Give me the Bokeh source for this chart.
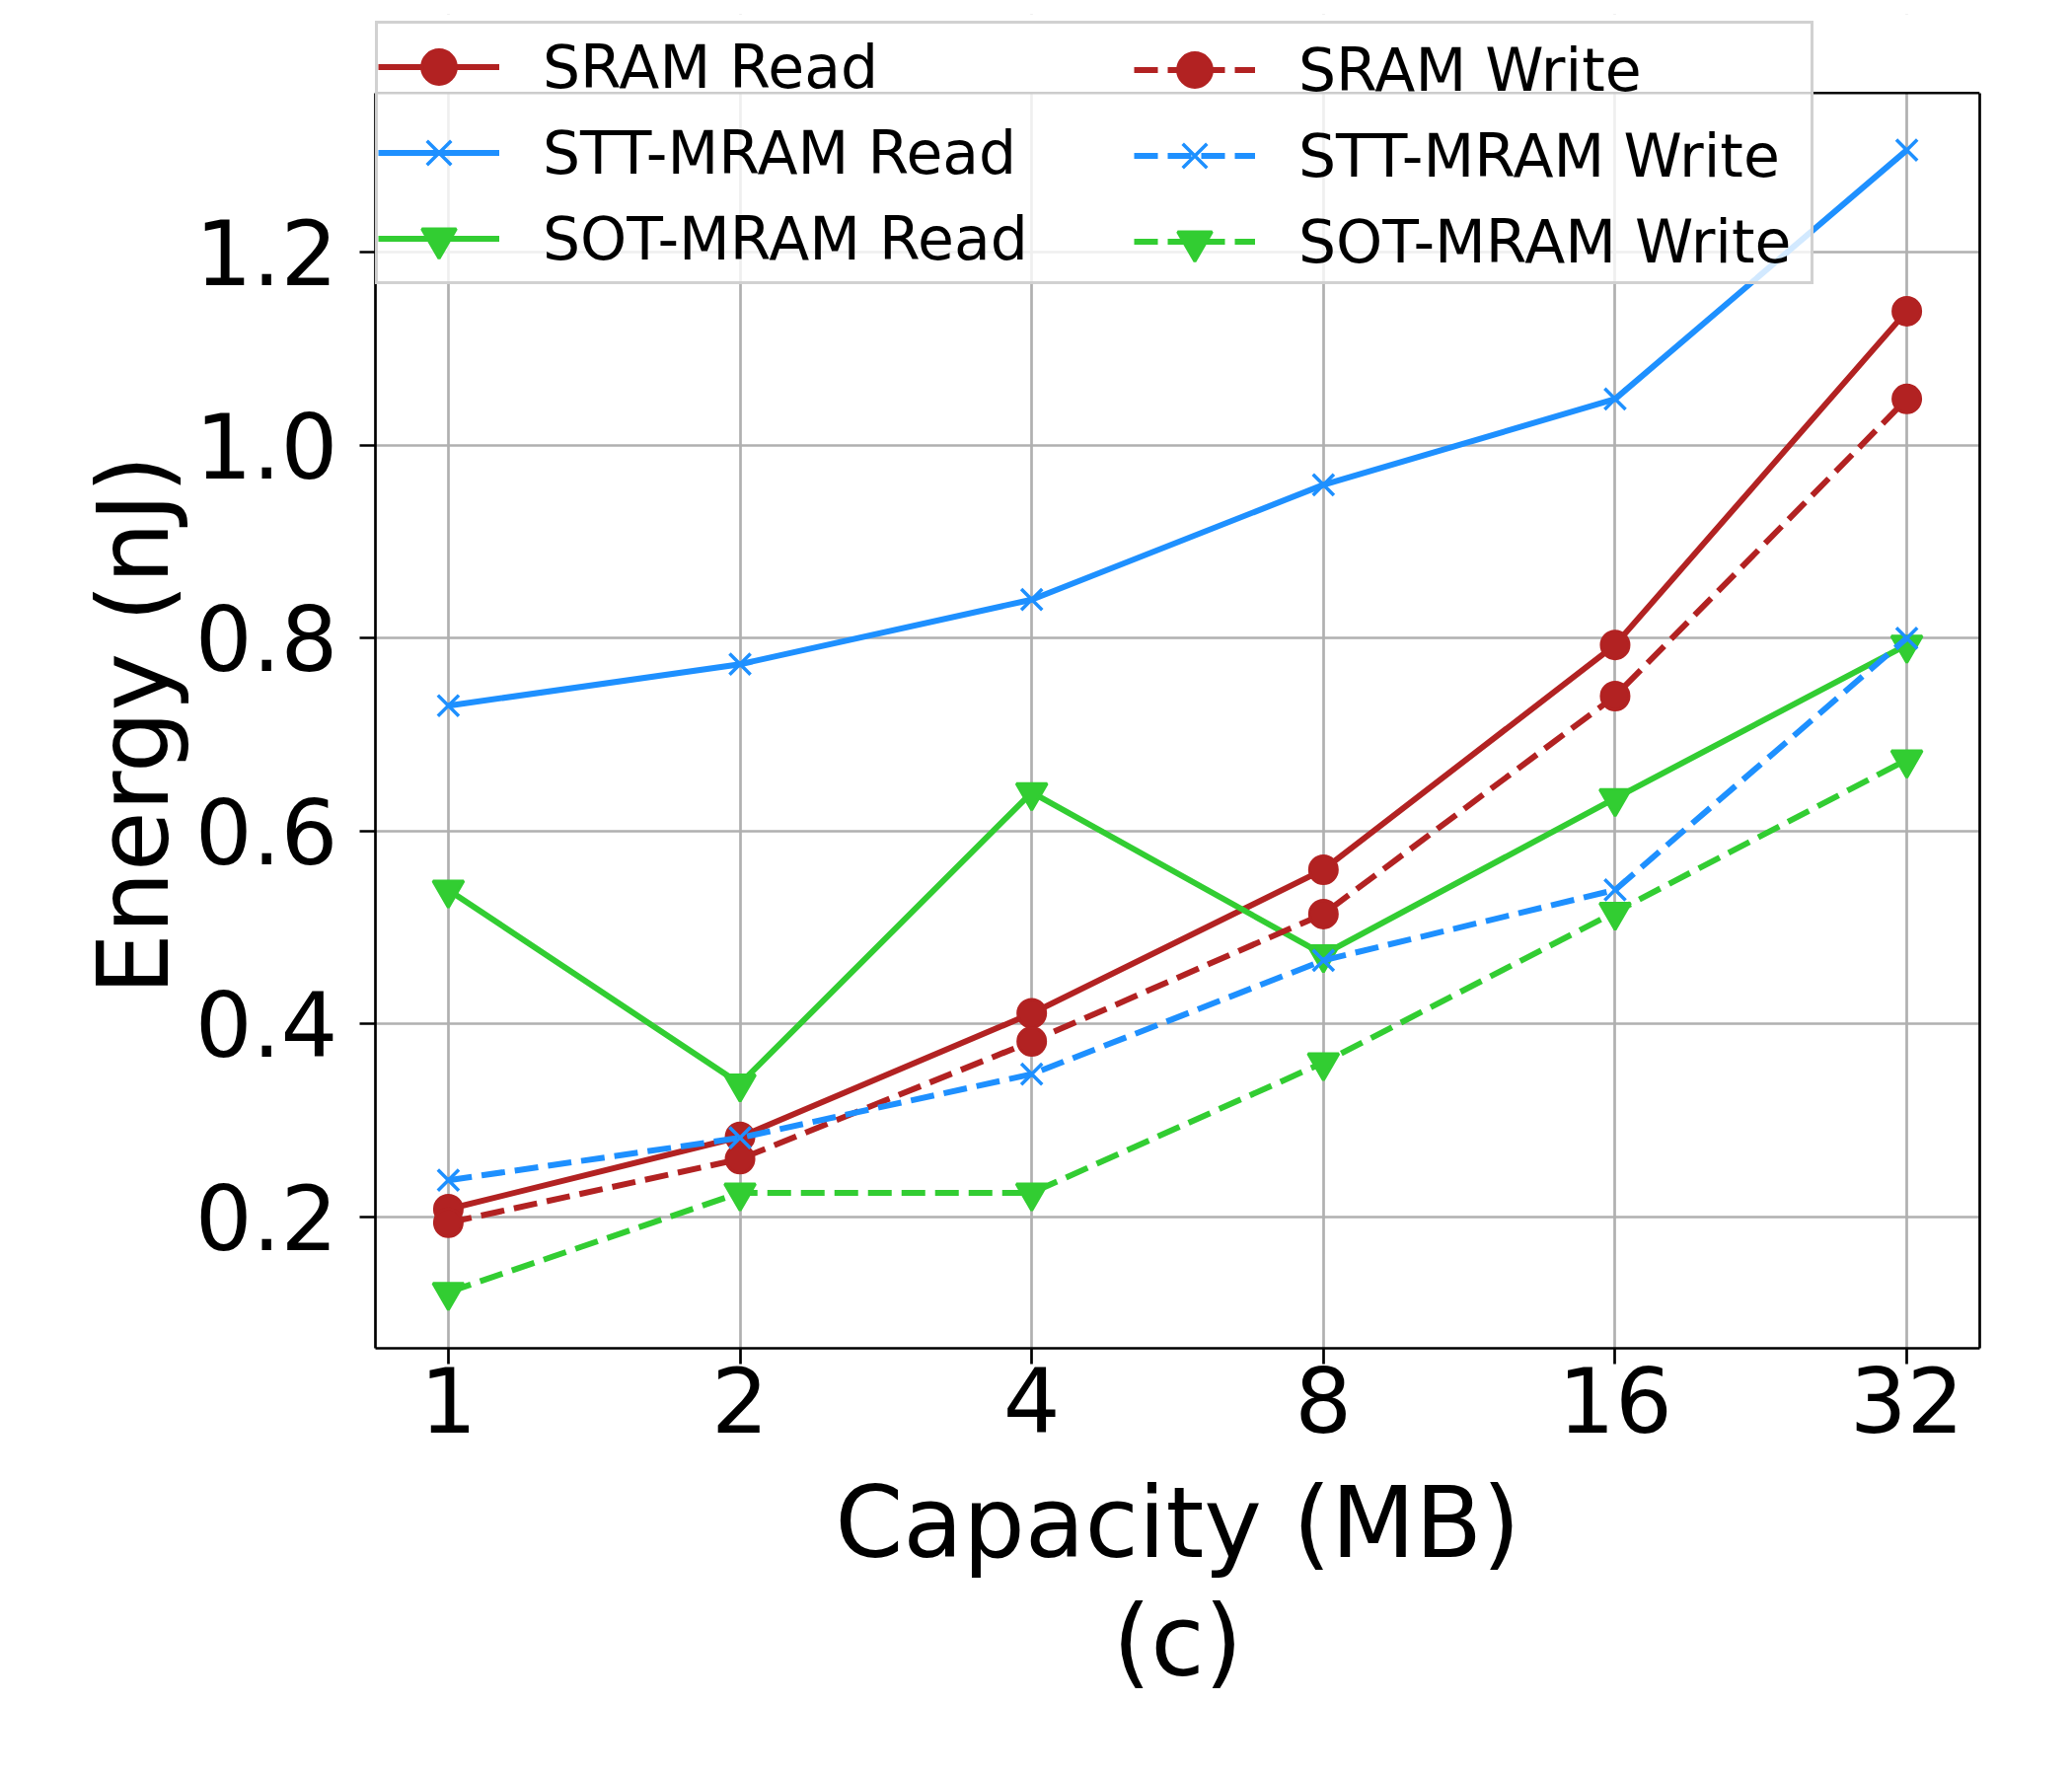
from bokeh.plotting import figure
from bokeh.models import (FixedTicker, Legend, LegendItem, Title, Range1d, LinearAxis,
                          Span, BoxAnnotation)
from bokeh.embed import file_html
from bokeh.resources import INLINE

# ---- data ----
capacities = ["1", "2", "4", "8", "16", "32"]
sram_read = [0.208, 0.283, 0.411, 0.560, 0.793, 1.139]
sram_write = [0.194, 0.260, 0.382, 0.514, 0.740, 1.048]
stt_read = [0.730, 0.773, 0.840, 0.959, 1.048, 1.306]
stt_write = [0.238, 0.282, 0.348, 0.466, 0.539, 0.800]
sot_read = [0.539, 0.338, 0.640, 0.472, 0.634, 0.793]
sot_write = [0.122, 0.225, 0.225, 0.360, 0.516, 0.674]
y_ticks = [0.2, 0.4, 0.6, 0.8, 1.0, 1.2]
y_tick_labels = ["0.2", "0.4", "0.6", "0.8", "1.0", "1.2"]

# axes limits (the frame is extended upward to leave room for the legend)
Y_MIN, Y_MAX = 0.0638, 1.3652
Y_TOP = 1.4468

FONT = "DejaVu Sans"
RED = "#b22222"
BLUE = "#1e90ff"
GREEN = "#32cd32"

xs = list(range(len(capacities)))

p = figure(
    frame_width=1626, frame_height=1352,
    min_border_left=380, min_border_top=14, min_border_right=78, min_border_bottom=418,
    x_range=Range1d(-0.25, 5.25), y_range=Range1d(Y_MIN, Y_TOP),
    output_backend="svg", toolbar_location=None,
    background_fill_color="white", border_fill_color="white",
)
p.outline_line_color = None

# axes
p.xaxis.ticker = FixedTicker(ticks=xs)
p.xaxis.major_label_overrides = {i: lab for i, lab in zip(xs, capacities)}
p.yaxis.ticker = FixedTicker(ticks=y_ticks)
p.yaxis.major_label_overrides = {t: lab for t, lab in zip(y_ticks, y_tick_labels)}
p.yaxis.bounds = (Y_MIN, Y_MAX)

for ax in (p.xaxis[0], p.yaxis[0]):
    ax.axis_line_color = "black"
    ax.axis_line_width = 2.7
    ax.major_tick_out = 16
    ax.major_tick_in = 0
    ax.major_tick_line_width = 2.7
    ax.major_tick_line_color = "black"
    ax.minor_tick_line_color = None
    ax.major_label_text_font = FONT
    ax.major_label_text_font_size = "91px"
    ax.major_label_text_color = "black"
    ax.axis_label_text_font = FONT
    ax.axis_label_text_font_size = "99px"
    ax.axis_label_text_font_style = "normal"
    ax.axis_label_text_color = "black"

p.xaxis.axis_label = "Capacity (MB)"
p.xaxis.major_label_standoff = 2
p.yaxis.major_label_standoff = 22
p.xaxis.axis_label_standoff = 31

# y-axis label, centred on the visible axes box (not the extended frame)
p.add_layout(Title(text="Energy (nJ)", align="left", offset=358, vertical_align="bottom",
                   standoff=4, text_font=FONT, text_font_size="99px",
                   text_font_style="normal", text_color="black"), "left")

# right spine
right_spine = LinearAxis(ticker=FixedTicker(ticks=[]), bounds=(Y_MIN, Y_MAX),
                         axis_line_color="black", axis_line_width=2.7,
                         major_tick_line_color=None, minor_tick_line_color=None,
                         major_label_text_font_size="0px")
p.add_layout(right_spine, "right")
# top spine
p.add_layout(Span(location=Y_MAX, dimension="width", line_color="black", line_width=2.7))

p.add_layout(Title(text="(c)", align="center", text_font=FONT, text_font_size="99px",
                   text_font_style="normal", text_color="black", standoff=0), "below")

for g in (p.xgrid[0], p.ygrid[0]):
    g.grid_line_color = "#b0b0b0"
    g.grid_line_width = 2.7

# blank the area above the top spine (covers the grid there)
p.add_layout(BoxAnnotation(bottom=Y_MAX, fill_color="white", fill_alpha=1.0,
                           line_color=None, level="underlay"))

LW = 6
DASH = "24 10"

def series(y, color, marker, dash, size):
    lr = p.line(xs, y, line_color=color, line_width=LW, line_dash=dash)
    if marker == "x":
        sr = p.scatter(xs, y, marker="x", size=size, line_color=color, line_width=3.5)
    else:
        sr = p.scatter(xs, y, marker=marker, size=size, fill_color=color, line_color=color, line_width=3)
    return [lr, sr]

r_sram_read = series(sram_read, RED, "circle", "solid", 28)
r_stt_read = series(stt_read, BLUE, "x", "solid", 30)
r_sot_read = series(sot_read, GREEN, "inverted_triangle", "solid", 31)
r_sram_write = series(sram_write, RED, "circle", DASH, 28)
r_stt_write = series(stt_write, BLUE, "x", DASH, 30)
r_sot_write = series(sot_write, GREEN, "inverted_triangle", DASH, 31)

common = dict(
    orientation="vertical", glyph_width=123, glyph_height=87, label_standoff=44,
    spacing=0, padding=0, margin=0,
    label_text_font=FONT, label_text_font_size="60px", label_text_color="black",
)

legA = Legend(
    items=[LegendItem(label="SRAM Read", renderers=r_sram_read),
           LegendItem(label="STT-MRAM Read", renderers=r_stt_read),
           LegendItem(label="SOT-MRAM Read", renderers=r_sot_read)],
    location=(0, 1078), label_width=1285,
    border_line_color="#cccccc", border_line_width=3, border_line_alpha=0.9,
    background_fill_color="white", background_fill_alpha=0.8,
    **common,
)
legB = Legend(
    items=[LegendItem(label="SRAM Write", renderers=r_sram_write),
           LegendItem(label="STT-MRAM Write", renderers=r_stt_write),
           LegendItem(label="SOT-MRAM Write", renderers=r_sot_write)],
    location=(769, 1078),
    border_line_color=None, background_fill_alpha=0.0,
    **common,
)
p.add_layout(legA)
p.add_layout(legB)

open("out.html", "w").write(file_html(p, INLINE))
